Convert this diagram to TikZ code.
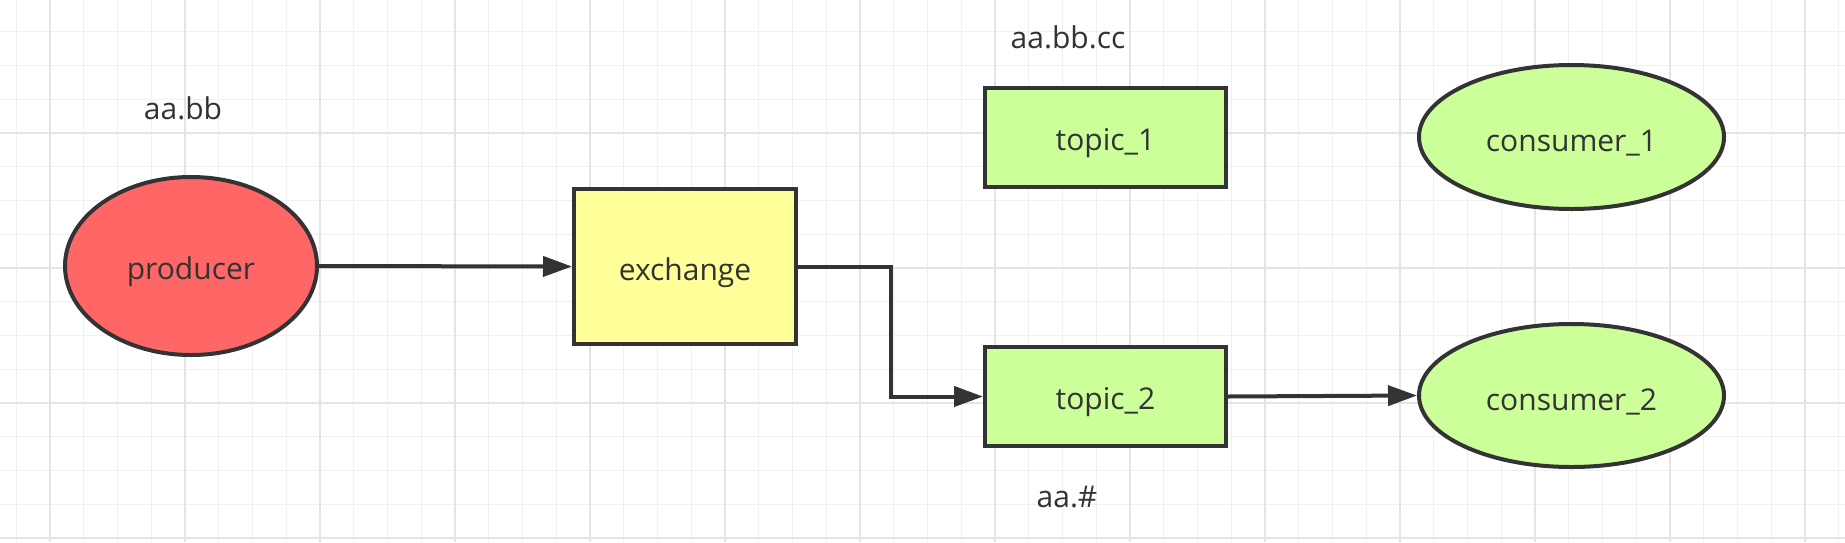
\documentclass[tikz,border=0pt]{standalone}
\usepackage{fontspec}
\setmainfont{Open Sans}
\usetikzlibrary{shapes.geometric,arrows.meta}
\definecolor{ink}{HTML}{333333}
\definecolor{gridminor}{HTML}{F0F0F0}
\definecolor{gridmajor}{HTML}{E4E4E4}
\definecolor{redfill}{HTML}{FF6666}
\definecolor{yellowfill}{HTML}{FFFF99}
\definecolor{greenfill}{HTML}{CCFF99}
\newcommand{\lowered}[1]{\raisebox{-6pt}[\height][\depth]{#1}}
\tikzset{
  base/.style={draw=ink, line width=4pt, text=ink, font=\fontsize{30}{36}\selectfont, inner sep=0pt},
  ell/.style={base, ellipse},
  box/.style={base, rectangle},
  lbl/.style={text=ink, font=\fontsize{30}{36}\selectfont, anchor=base, inner sep=0pt},
  arr/.style={draw=ink, line width=4pt, -{Triangle[length=29pt,width=20pt]}},
}
\begin{document}
\begin{tikzpicture}[x=1pt,y=-1pt]
\useasboundingbox (0,0) rectangle (1845,542);
\fill[white] (0,0) rectangle (1845,542);
% grid
\foreach \i in {0,...,54} {
  \draw[gridminor, line width=1.3pt] ({16.25+33.75*\i},0) -- ({16.25+33.75*\i},542);
}
\foreach \i in {1,...,16} {
  \draw[gridminor, line width=1.3pt] (0,{-2+33.75*\i}) -- (1845,{-2+33.75*\i});
}
\foreach \i in {0,...,13} {
  \draw[gridmajor, line width=1.7pt] ({50+135*\i},0) -- ({50+135*\i},542);
}
\foreach \i in {1,...,4} {
  \draw[gridmajor, line width=1.7pt] (0,{-2+135*\i}) -- (1845,{-2+135*\i});
}
% nodes
\node[ell, fill=redfill, minimum width=252pt, minimum height=178pt] (producer) at (191,266) {\lowered{producer}};
\node[box, fill=yellowfill, minimum width=222pt, minimum height=155pt] (exchange) at (685,266.5) {\lowered{exchange}};
\node[box, fill=greenfill, minimum width=241pt, minimum height=99pt] (topic1) at (1105.5,137.5) {\lowered{topic\_1}};
\node[box, fill=greenfill, minimum width=241pt, minimum height=99pt] (topic2) at (1105.5,396.5) {\lowered{topic\_2}};
\node[ell, fill=greenfill, minimum width=305pt, minimum height=144pt] (consumer1) at (1571.5,137) {\lowered{consumer\_1}};
\node[ell, fill=greenfill, minimum width=305pt, minimum height=143pt] (consumer2) at (1571.5,395.5) {\lowered{consumer\_2}};
% labels
\node[lbl] (l1) at (183,119) {aa.bb};
\node[lbl] (l2) at (1068,48) {aa.bb.cc};
\node[lbl] (l3) at (1067,507) {aa.\#};
% connectors
\coordinate (bend) at (891,0);
\draw[arr] (producer.east) -- (exchange.west);
\draw[arr] (exchange.east) -| (bend |- topic2.west) -- (topic2.west);
\draw[arr] (topic2.east) -- (consumer2.west);
\end{tikzpicture}
\end{document}
